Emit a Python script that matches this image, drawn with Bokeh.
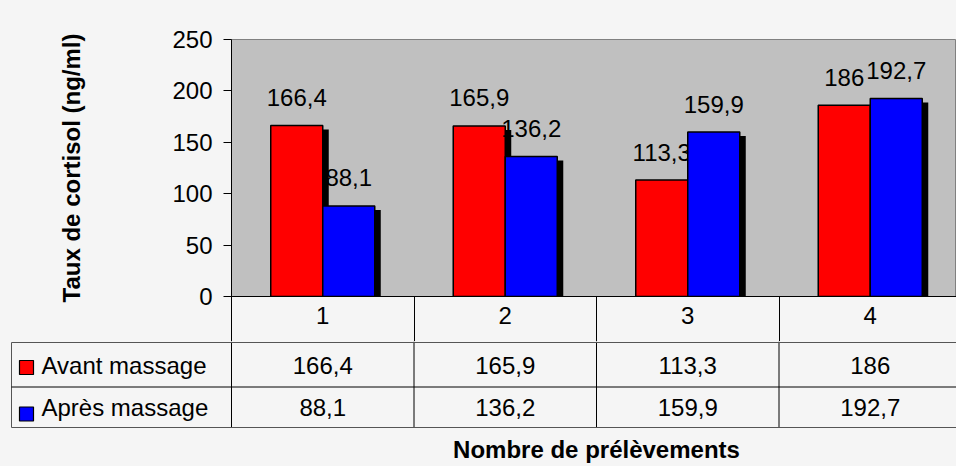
from bokeh.plotting import figure
from bokeh.layouts import column
from bokeh.models import Range1d, FixedTicker, GlobalInlineStyleSheet
from bokeh.core.properties import value
from bokeh.embed import file_html
from bokeh.resources import INLINE

# ---------------- data ----------------
categories = ["1", "2", "3", "4"]
series_names = ["Avant massage", "Après massage"]
avant = [166.4, 165.9, 113.3, 186]
apres = [88.1, 136.2, 159.9, 192.7]
y_ticks = [0, 50, 100, 150, 200, 250]
y_title = "Taux de cortisol (ng/ml)"
x_title = "Nombre de prélèvements"

# ---------------- style / layout ----------------
colors = ["#ff0000", "#0000ff"]
BG = "#f5f5f5"
PLOT_BG = "#c0c0c0"
FONT = value("Liberation Sans")
FS = "24px"

W = 956
LEFT = 231          # frame left (page px)
TOP = 39            # frame top
FRAME_H = 257       # 0..250
HEAD = 45           # header row of the table (category labels)
H1 = TOP + FRAME_H + HEAD
H2 = 466 - H1
CAT_PX = 182.5
Y_MAX = 250
x_end = (W - LEFT) / CAT_PX
x_tab_start = -LEFT / CAT_PX
BAR_W = 0.285
DX = 6 / CAT_PX
DY = 4 * Y_MAX / FRAME_H
n = len(categories)


def fmt(v):
    return ("%g" % v).replace(".", ",")


def px_x(page_px):
    return (page_px - LEFT) / CAT_PX


series = [avant, apres]
centers = [i + 0.5 for i in range(n)]

# ---------------- chart figure ----------------
p1 = figure(width=W, height=H1, x_range=Range1d(0, x_end), y_range=Range1d(0, Y_MAX),
            output_backend="svg", toolbar_location=None, title=None,
            min_border_left=LEFT, min_border_top=TOP, min_border_right=0,
            min_border_bottom=HEAD)
p1.frame_align = False
p1.background_fill_color = PLOT_BG
p1.border_fill_color = BG
p1.outline_line_color = "#808080"
p1.grid.visible = False

yax = p1.yaxis[0]
yax.ticker = FixedTicker(ticks=y_ticks)
yax.major_tick_out = 8
yax.major_tick_in = 0
yax.minor_tick_out = 0
yax.minor_tick_in = 0
yax.major_label_standoff = 11
yax.major_label_text_font = "Liberation Sans"
yax.major_label_text_font_size = FS
yax.major_label_text_color = "black"
yax.axis_line_color = "black"
yax.major_tick_line_color = "black"
yax.axis_label = y_title
yax.axis_label_standoff = 84
yax.axis_label_text_font = "Liberation Sans"
yax.axis_label_text_font_size = FS
yax.axis_label_text_font_style = "bold"
yax.axis_label_text_color = "black"

xax = p1.xaxis[0]
xax.ticker = FixedTicker(ticks=centers, minor_ticks=list(range(n + 1)))
xax.major_label_overrides = {c: lab for c, lab in zip(centers, categories)}
xax.major_tick_out = 0
xax.major_tick_in = 0
xax.minor_tick_out = HEAD
xax.minor_tick_in = 0
xax.minor_tick_line_color = "black"
xax.major_label_standoff = -35
xax.major_label_text_font = "Liberation Sans"
xax.major_label_text_font_size = FS
xax.major_label_text_color = "black"
xax.axis_line_color = "black"

lefts = [[i + 0.5 + (k - 1) * BAR_W for i in range(n)] for k in range(len(series))]

# shadows
for k, vals in enumerate(series):
    p1.quad(left=[l + DX for l in lefts[k]], right=[l + BAR_W + DX for l in lefts[k]],
            bottom=0, top=[v - DY for v in vals], fill_color="black", line_color=None)
# bars + value labels
for k, vals in enumerate(series):
    p1.quad(left=lefts[k], right=[l + BAR_W for l in lefts[k]], bottom=0, top=vals,
            fill_color=colors[k], line_color="black", line_width=1.5)
    p1.text(x=[l + BAR_W / 2 for l in lefts[k]], y=vals, text=[fmt(v) for v in vals],
            text_align="center", text_baseline="alphabetic", y_offset=-28,
            text_font=FONT, text_font_size=FS, text_color="black")

# ---------------- data table figure ----------------
# y coordinates: pixels below the x axis line
Y0 = HEAD - 1
p2 = figure(width=W, height=H2, x_range=Range1d(x_tab_start, x_end),
            y_range=Range1d(Y0 + H2, Y0),
            x_axis_type=None, y_axis_type=None, output_backend="svg",
            toolbar_location=None, title=None, min_border=0)
p2.frame_align = False
p2.background_fill_color = BG
p2.border_fill_color = BG
p2.outline_line_color = None
p2.grid.visible = False

ROW_LINES = [45, 89.5, 130]
x_leg = px_x(11)

p2.segment(x0=list(range(n + 1)), y0=Y0, x1=list(range(n + 1)), y1=ROW_LINES[-1],
           line_color="black", line_width=1)
p2.segment(x0=[x_leg], y0=ROW_LINES[0], x1=[x_leg], y1=ROW_LINES[-1],
           line_color="#555555", line_width=1)
p2.segment(x0=x_leg, y0=[ROW_LINES[0], ROW_LINES[2]], x1=x_end + 1,
           y1=[ROW_LINES[0], ROW_LINES[2]], line_color="#555555", line_width=1)
p2.segment(x0=[x_leg], y0=[ROW_LINES[1]], x1=[x_end + 1], y1=[ROW_LINES[1]],
           line_color="black", line_width=1)

row_base = [67.5, 110]
sq_y = [70, 116.5]
for k, vals in enumerate(series):
    p2.text(x=centers, y=row_base[k], text=[fmt(v) for v in vals], text_align="center",
            text_baseline="alphabetic", text_font=FONT, text_font_size=FS, text_color="black")
    p2.rect(x=[px_x(26)], y=[sq_y[k]], width=14, height=14,
            width_units="screen", height_units="screen",
            fill_color=colors[k], line_color="black", line_width=1.2)
    p2.text(x=[px_x(41)], y=[row_base[k]], text=[series_names[k]],
            text_align="left", text_baseline="alphabetic",
            text_font=FONT, text_font_size=FS, text_color="black")

p2.text(x=[n / 2], y=[152], text=[x_title], text_align="center", text_baseline="alphabetic",
        text_font=FONT, text_font_size=FS, text_font_style="bold", text_color="black")

layout = column(p1, p2, spacing=0)
layout.stylesheets = [GlobalInlineStyleSheet(css="html, body { background-color: #f5f5f5; }")]

open("out.html", "w").write(file_html(layout, INLINE))
